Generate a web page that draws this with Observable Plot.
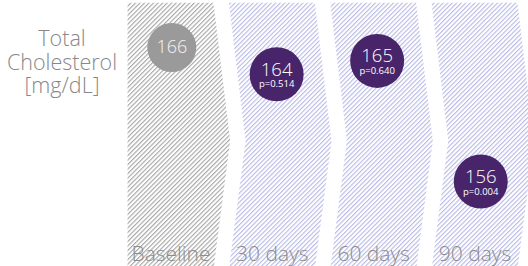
<!DOCTYPE html>
<html><head><meta charset="utf-8">
<script src="https://cdn.jsdelivr.net/npm/d3@7"></script>
<script src="https://cdn.jsdelivr.net/npm/@observablehq/plot@0.6"></script>
<style>
html,body{margin:0;padding:0;background:#fff;}
#wrap{display:flex;width:528px;height:266px;font-family:"Open Sans",sans-serif;overflow:hidden;}
#title{width:124px;flex:none;text-align:center;color:#888;font-size:21.5px;line-height:23.5px;padding-top:26px;font-weight:300;box-sizing:border-box;}
#chart svg{display:block;}
</style></head><body>
<div id="wrap"><div id="title"></div><div id="chart"></div></div>
<script>
// ---- data ----
const categories = ["Baseline", "30 days", "60 days", "90 days"];
const values = [166, 164, 165, 156];
const pLabels = ["", "p=0.514", "p=0.640", "p=0.004"];
const titleLines = ["Total", "Cholesterol", "[mg/dL]"];

// ---- shape constants (styling) ----
const halfW = 0.424;   // column half-width in category units
const bulge = 0.165;   // chevron depth in category units
const yTop = 169.3, yMid = 159.0, yBot = 149.4; // vertical extent of the columns

document.getElementById("title").innerHTML = titleLines.join("<br>");

const cols = categories.flatMap((cat, i) => [
  [yTop, 0], [yMid, 1], [yBot, 0]
].map(([y, f]) => ({
  cat, i, y,
  x1: i - halfW + (i > 0 ? bulge * f : 0),
  x2: i + halfW + bulge * f
})));

const frac = v => v >= yMid ? (yTop - v) / (yTop - yMid) : (v - yBot) / (yMid - yBot);
const pts = categories.map((cat, i) => ({
  cat, i, v: values[i], p: pLabels[i],
  x: i + 0.5 * bulge * frac(values[i]) * (i > 0 ? 1 : 0.3)
}));

const defs = () => {
  const d = d3.create("svg:defs");
  const mk = (id, color) => {
    const p = d.append("pattern").attr("id", id).attr("patternUnits", "userSpaceOnUse")
      .attr("width", 3.2).attr("height", 10).attr("patternTransform", "rotate(45)");
    p.append("rect").attr("width", 3.2).attr("height", 10).attr("fill", "#fff");
    p.append("line").attr("x1", 0.6).attr("x2", 0.6).attr("y1", 0).attr("y2", 10)
      .attr("stroke", color).attr("stroke-width", 1);
  };
  mk("hatch-gray", "#9c9c9c");
  mk("hatch-purple", "#b0b2e2");
  return d.node();
};

const base = pts.filter(d => d.i === 0);
const rest = pts.filter(d => d.i > 0);

const chart = Plot.plot({
  width: 404, height: 266,
  margin: 0,
  x: {type: "linear", domain: [0, 3], range: [46.5, 350.5], axis: null},
  y: {type: "linear", domain: [166, 156], range: [47, 181], axis: null},
  style: {fontFamily: "'Open Sans', sans-serif", background: "#fff"},
  marks: [
    defs,
    Plot.areaX(cols.filter(d => d.i === 0), {x1: "x1", x2: "x2", y: "y", z: "cat", fill: "url(#hatch-gray)"}),
    Plot.areaX(cols.filter(d => d.i > 0), {x1: "x1", x2: "x2", y: "y", z: "cat", fill: "url(#hatch-purple)"}),
    Plot.dot(base, {x: "x", y: "v", r: 24.5, fill: "#9a9a9b"}),
    Plot.dot(rest, {x: "x", y: "v", r: 27, fill: "#48256a"}),
    Plot.text(base, {x: "x", y: "v", text: d => String(d.v), fill: "#f4f4f4", fontSize: 18, fontWeight: 300}),
    Plot.text(rest, {x: "x", y: "v", text: d => String(d.v), fill: "#ffffff", fontSize: 18.5, lineAnchor: "bottom", dy: 1.5, fontWeight: 300}),
    Plot.text(rest, {x: "x", y: "v", text: "p", fill: "#ffffff", fontSize: 9.5, lineAnchor: "bottom", dy: 13}),
    Plot.text(categories.map((c, i) => ({c, i})), {x: "i", text: "c", frameAnchor: "bottom", lineAnchor: "bottom", dy: -6, fill: "#8c8c8c", fontSize: 21, fontWeight: 300})
  ]
});
document.getElementById("chart").appendChild(chart);
</script>
</body></html>
